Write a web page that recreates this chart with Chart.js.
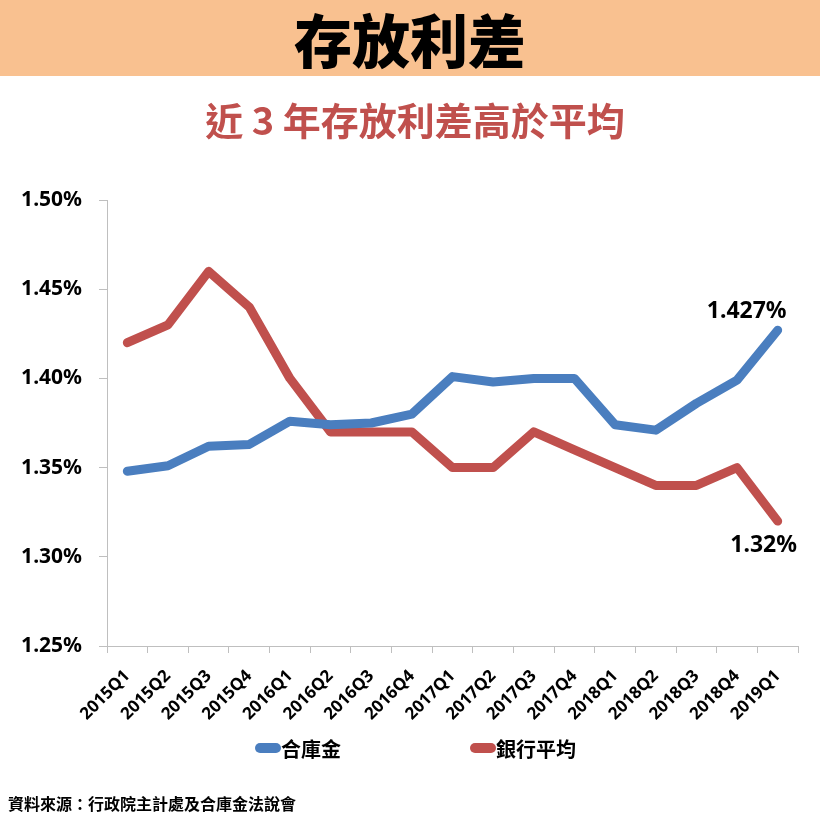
<!DOCTYPE html>
<html>
<head>
<meta charset="utf-8">
<script src="https://cdn.jsdelivr.net/npm/chart.js@4.4.1/dist/chart.umd.min.js"></script>
<style>
  html, body { margin: 0; padding: 0; background: #fff; }
  body { width: 820px; height: 820px; position: relative; overflow: hidden;
         font-family: "Noto Sans CJK TC", "Noto Sans", sans-serif; }
  #banner { position: absolute; left: 0; top: 0; width: 820px; height: 76px; background: #F9C190;
            display: flex; align-items: center; justify-content: center;
            font-size: 58px; font-weight: 900; color: #000; line-height: 1; }
  #subtitle { position: absolute; left: 0; top: 97px; width: 830px; text-align: center;
              font-size: 38px; font-weight: 700; color: #C0504D; line-height: 44px; }
  #wrap { position: absolute; left: 0; top: 0; width: 820px; height: 820px; }
  #legend { position: absolute; left: 0; top: 734px; width: 820px; height: 28px; }
  .item { position: absolute; top: 0; display: flex; align-items: center; height: 28px;
          font-size: 20px; font-weight: 700; color: #000; }
  .mark { width: 26px; height: 10px; border-radius: 5px; margin-right: 0px; }
  #footer { position: absolute; left: 8px; top: 792px; font-size: 16px; font-weight: 700; color: #000; line-height: 22px; }
</style>
</head>
<body>
<div id="wrap"><canvas id="c" width="820" height="820"></canvas></div>
<div id="banner">存放利差</div>
<div id="subtitle">近 3 年存放利差高於平均</div>
<div id="legend"></div>
<div id="footer">資料來源：行政院主計處及合庫金法說會</div>
<script>
const categories = ["2015Q1","2015Q2","2015Q3","2015Q4","2016Q1","2016Q2","2016Q3","2016Q4",
                    "2017Q1","2017Q2","2017Q3","2017Q4","2018Q1","2018Q2","2018Q3","2018Q4","2019Q1"];
const tcbValues  = [1.348,1.351,1.362,1.363,1.376,1.374,1.375,1.380,1.401,1.398,1.400,1.400,1.374,1.371,1.386,1.399,1.427];
const bankValues = [1.42,1.43,1.46,1.44,1.40,1.37,1.37,1.37,1.35,1.35,1.37,1.36,1.35,1.34,1.34,1.35,1.32];
const seriesNames = ["合庫金","銀行平均"];
const yTicks = [1.25,1.30,1.35,1.40,1.45,1.50];

const BLUE = "#4A7EBF", RED = "#C0504D", AXIS = "#BFBFBF";
const numFont = '"Noto Sans", "DejaVu Sans", sans-serif';

const endLabels = {
  id: "endLabels",
  afterDatasetsDraw(chart) {
    const ctx = chart.ctx;
    const offsets = [{dx: -31, dy: -19}, {dx: -14, dy: 24}];
    chart.data.datasets.forEach((ds, i) => {
      const meta = chart.getDatasetMeta(i);
      const last = meta.data[meta.data.length - 1];
      const v = ds.data[ds.data.length - 1];
      ctx.save();
      ctx.font = "bold 23px " + numFont;
      ctx.fillStyle = "#000";
      ctx.textAlign = "center";
      ctx.textBaseline = "middle";
      ctx.fillText(String(v) + "%", last.x + offsets[i].dx, last.y + offsets[i].dy);
      ctx.restore();
    });
  }
};

const chart = new Chart(document.getElementById("c"), {
  type: "line",
  data: {
    labels: categories,
    datasets: [
      { label: seriesNames[0], data: tcbValues, borderColor: BLUE, backgroundColor: BLUE,
        borderWidth: 9, pointRadius: 0, tension: 0, borderCapStyle: "round", borderJoinStyle: "round" },
      { label: seriesNames[1], data: bankValues, borderColor: RED, backgroundColor: RED,
        borderWidth: 9, pointRadius: 0, tension: 0, borderCapStyle: "round", borderJoinStyle: "round" }
    ]
  },
  options: {
    responsive: false,
    animation: false,
    layout: { padding: { left: 0, right: 22, top: 200, bottom: 94 } },
    plugins: { legend: { display: false }, tooltip: { enabled: false } },
    scales: {
      x: {
        offset: true,
        grid: { display: true, offset: true, drawOnChartArea: false, drawTicks: true, tickLength: 7, color: AXIS },
        border: { display: true, color: AXIS, width: 1 },
        ticks: { maxRotation: 45, minRotation: 45, autoSkip: false, padding: 13,
                 font: { family: numFont, size: 17, weight: "bold" }, color: "#000" },
        afterFit(scale) { scale.height = 80; }
      },
      y: {
        min: 1.25, max: 1.50,
        afterBuildTicks(scale) { scale.ticks = yTicks.map(v => ({ value: v })); },
        grid: { display: true, drawOnChartArea: false, drawTicks: true, tickLength: 8, color: AXIS },
        border: { display: true, color: AXIS, width: 1 },
        ticks: { padding: 17, font: { family: numFont, size: 21, weight: "bold" }, color: "#000",
                 callback: v => Number(v).toFixed(2) + "%" },
        afterFit(scale) { scale.width = 107; }
      }
    }
  },
  plugins: [endLabels]
});

// legend built from the chart's datasets
const legend = document.getElementById("legend");
const legendX = [255, 470];
chart.data.datasets.forEach((ds, i) => {
  const item = document.createElement("div");
  item.className = "item";
  item.style.left = legendX[i] + "px";
  const mark = document.createElement("span");
  mark.className = "mark";
  mark.style.background = ds.borderColor;
  const txt = document.createElement("span");
  txt.textContent = ds.label;
  item.appendChild(mark);
  item.appendChild(txt);
  legend.appendChild(item);
});
</script>
</body>
</html>
